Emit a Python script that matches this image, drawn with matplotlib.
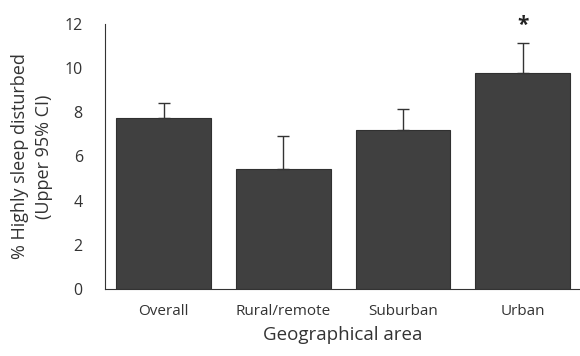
import matplotlib
matplotlib.use("Agg")
import matplotlib.pyplot as plt
import numpy as np

categories = ["Overall", "Rural/remote", "Suburban", "Urban"]
values = [7.74, 5.43, 7.2, 9.77]
upper_ci = [8.42, 6.93, 8.15, 11.13]
significant = [False, False, False, True]
yticks = [0, 2, 4, 6, 8, 10, 12]

plt.rcParams['font.family'] = ['Open Sans', 'DejaVu Sans']

fig = plt.figure(figsize=(5.8, 3.56), dpi=100)
ax = fig.add_axes([0.181, 0.188, 0.819, 0.745])

x = np.arange(len(categories))
vals = np.array(values)
err_up = np.array(upper_ci) - vals
ax.bar(x, vals, width=0.79, color="#404040", edgecolor="#303030", linewidth=0.8, zorder=2)
ax.errorbar(x, vals, yerr=[np.zeros_like(vals), err_up], fmt="none",
            ecolor="#333333", elinewidth=1.0, capsize=4, capthick=1.0, zorder=3)
for xi, up, sig in zip(x, upper_ci, significant):
    if sig:
        ax.text(xi, up + 0.3, "*", ha="center", va="bottom", fontsize=15,
                fontweight="bold", color="#222222")

ax.set_xlim(-0.49, 3.48)
ax.set_ylim(0, 12)
ax.set_yticks(yticks)
ax.set_xticks(x)
ax.set_xticklabels(categories, fontsize=11, color="#333333")
ax.tick_params(axis="y", length=0, labelsize=11.5, pad=16, colors="#333333")
ax.tick_params(axis="x", length=0, pad=11)
for s in ["top", "right"]:
    ax.spines[s].set_visible(False)
ax.spines["left"].set_color("#333333")
ax.spines["bottom"].set_color("#333333")
ax.set_ylabel("% Highly sleep disturbed\n(Upper 95% CI)", fontsize=13,
              color="#333333", linespacing=1.45, labelpad=8)
ax.set_xlabel("Geographical area", fontsize=13.5, color="#333333", labelpad=5)

fig.savefig("out.png", dpi=100)
